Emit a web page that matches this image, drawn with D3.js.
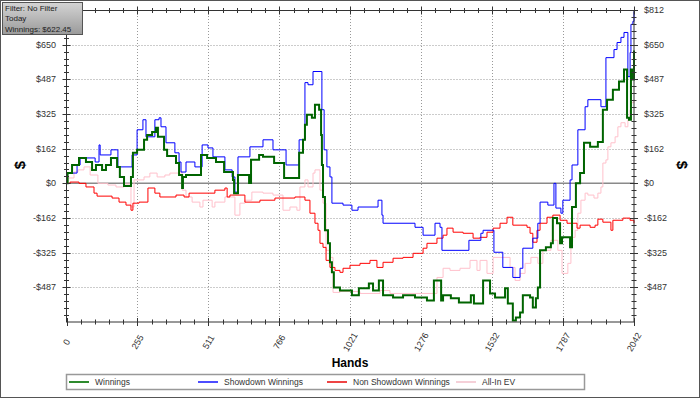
<!DOCTYPE html>
<html>
<head>
<meta charset="utf-8">
<script src="https://cdn.jsdelivr.net/npm/d3@7"></script>
<style>
  body { margin: 0; background: #fff; }
  svg { display: block; font-family: "Liberation Sans", Arial, sans-serif; }
</style>
</head>
<body>
<svg width="700" height="398"></svg>
<script>
// hand, dollars
const winnings = [[0,0],[4,48],[20,86],[45,119],[70,100],[92,63],[106,86],[128,63],[142,86],[160,119],[182,77],[192,30],[207,-13],[232,30],[239,143],[254,157],[279,204],[290,227],[308,241],[322,260],[329,218],[351,157],[362,128],[394,95],[405,39],[416,-22],[419,30],[430,39],[484,133],[506,119],[538,100],[567,53],[599,16],[603,-46],[617,39],[657,2],[664,110],[693,133],[707,124],[747,95],[783,25],[829,25],[837,143],[851,204],[858,274],[865,321],[883,307],[894,368],[909,345],[916,227],[919,86],[923,-64],[930,-220],[941,-281],[948,-370],[955,-417],[962,-488],[984,-502],[1027,-525],[1052,-492],[1088,-469],[1103,-502],[1124,-455],[1139,-525],[1175,-535],[1211,-525],[1254,-535],[1297,-549],[1322,-455],[1348,-549],[1355,-525],[1383,-539],[1412,-558],[1455,-525],[1466,-563],[1499,-455],[1524,-516],[1542,-535],[1578,-492],[1588,-563],[1606,-643],[1617,-629],[1632,-605],[1642,-525],[1668,-535],[1678,-582],[1689,-539],[1696,-488],[1704,-314],[1725,-300],[1743,-281],[1750,-163],[1765,-187],[1776,-281],[1783,-253],[1812,-300],[1819,-111],[1833,0],[1848,48],[1862,190],[1884,171],[1912,194],[1930,345],[1945,392],[1966,439],[1988,477],[2006,533],[2017,307],[2024,298],[2031,533],[2035,486],[2042,622]];

const showdown = [[0,0],[2,48],[38,86],[49,119],[103,100],[117,180],[121,133],[160,157],[185,77],[236,133],[254,251],[275,298],[286,218],[318,298],[333,307],[340,265],[358,190],[390,143],[405,100],[412,53],[430,100],[462,77],[488,180],[509,166],[527,124],[570,63],[596,30],[606,-41],[617,124],[660,171],[707,204],[743,157],[790,86],[837,204],[858,472],[869,462],[887,524],[919,345],[927,157],[937,77],[948,30],[955,-93],[995,-102],[1027,-126],[1049,-111],[1121,-79],[1135,-149],[1139,-187],[1254,-206],[1283,-243],[1326,-187],[1344,-206],[1351,-314],[1448,-267],[1491,-234],[1499,-220],[1538,-323],[1570,-394],[1606,-441],[1632,-398],[1642,-304],[1678,-257],[1696,-187],[1704,-88],[1732,-102],[1754,0],[1761,-116],[1779,-140],[1786,-79],[1812,16],[1819,86],[1840,251],[1866,359],[1876,392],[1923,359],[1941,589],[1970,627],[1981,660],[1995,684],[2006,707],[2020,500],[2028,613],[2031,745],[2038,759],[2042,806]];

const nonShowdown = [[0,0],[13,6],[45,0],[70,-17],[99,-46],[110,-60],[164,-69],[189,-88],[214,-102],[232,-126],[239,-93],[261,-88],[293,-22],[318,-46],[336,-64],[394,-55],[423,-64],[441,-46],[513,-46],[534,-32],[570,-22],[578,-64],[588,-55],[642,-88],[696,-79],[750,-69],[822,-64],[858,-79],[876,-140],[894,-187],[905,-220],[912,-281],[923,-300],[934,-361],[948,-394],[966,-408],[984,-417],[995,-398],[1020,-384],[1056,-375],[1092,-361],[1117,-394],[1139,-370],[1175,-351],[1211,-347],[1247,-328],[1283,-304],[1297,-281],[1333,-257],[1355,-243],[1369,-210],[1391,-229],[1427,-234],[1463,-257],[1488,-253],[1513,-229],[1535,-210],[1560,-187],[1585,-159],[1606,-196],[1632,-196],[1657,-206],[1668,-234],[1678,-276],[1693,-220],[1704,-187],[1729,-159],[1750,-149],[1776,-173],[1801,-187],[1822,-187],[1837,-210],[1848,-196],[1884,-206],[1902,-196],[1912,-168],[1930,-182],[1959,-220],[1966,-173],[2002,-163],[2028,-173],[2042,-187]];

const allInEV = [[0,0],[5,25],[27,53],[41,63],[63,77],[85,39],[113,0],[149,-8],[178,-17],[207,-3],[232,-111],[243,16],[279,30],[300,48],[326,30],[354,39],[372,48],[408,53],[416,-32],[430,-64],[452,-88],[480,-111],[491,-79],[524,-111],[534,-88],[570,-64],[606,-149],[624,-93],[642,-79],[667,-41],[707,-46],[743,-55],[779,-126],[804,-111],[829,-126],[840,-17],[858,16],[869,-17],[887,48],[894,63],[912,-32],[923,-93],[934,-314],[948,-347],[959,-511],[984,-507],[1056,-516],[1128,-502],[1164,-516],[1308,-516],[1333,-441],[1355,-398],[1380,-408],[1416,-398],[1452,-361],[1477,-408],[1488,-361],[1513,-422],[1535,-347],[1563,-347],[1596,-394],[1614,-455],[1632,-422],[1650,-375],[1671,-347],[1696,-375],[1714,-314],[1743,-267],[1768,-314],[1783,-422],[1804,-375],[1815,-253],[1830,-220],[1840,-140],[1851,-79],[1866,-46],[1876,-55],[1898,-69],[1912,-46],[1923,-17],[1930,95],[1941,110],[1948,171],[1959,190],[1974,218],[1984,265],[1995,284],[2010,265],[2020,298],[2028,345],[2031,378],[2042,392]];

const xTickValues = [0, 255.25, 510.5, 765.75, 1021, 1276.25, 1531.5, 1786.75, 2042];
const xTickLabels = ['0', '255', '511', '766', '1021', '1276', '1532', '1787', '2042'];
const yTickValues = [-487.35, -324.9, -162.45, 0, 162.45, 324.9, 487.35, 649.8, 812.25];
const yTickLabels = ['-$487', '-$325', '-$162', '$0', '$162', '$325', '$487', '$650', '$812'];

const seriesNames = ['Winnings', 'Showdown Winnings', 'Non Showdown Winnings', 'All-In EV'];
const infoLines = ['Filter: No Filter', 'Today', 'Winnings: $622.45'];

const svg = d3.select('svg');

const x = d3.scaleLinear().domain([0, 2042]).range([66.5, 634]);
const y = d3.scaleLinear().domain([-649.8, 812.25]).range([322, 10]);

// outer frame
svg.append('rect')
  .attr('x', 0.5).attr('y', 0.5)
  .attr('width', 699).attr('height', 397)
  .attr('fill', '#fff').attr('stroke', '#555');

// grid
const xMinor = [];
for (let i = 0; i < xTickValues.length - 1; i++) {
  const step = (xTickValues[i + 1] - xTickValues[i]) / 5;
  for (let k = 1; k < 5; k++) xMinor.push(xTickValues[i] + k * step);
}
const yAll = [-649.8].concat(yTickValues);
const yMinor = [];
for (let i = 0; i < yAll.length - 1; i++) {
  const step = (yAll[i + 1] - yAll[i]) / 5;
  for (let k = 1; k < 5; k++) yMinor.push(yAll[i] + k * step);
}

const grid = svg.append('g');
grid.selectAll('.vg')
  .data(xTickValues.slice(1, -1))
  .enter().append('line')
    .attr('x1', d => Math.round(x(d)) + 0.5).attr('x2', d => Math.round(x(d)) + 0.5)
    .attr('y1', 10).attr('y2', 322)
    .attr('stroke', '#999').attr('stroke-dasharray', '1,2');
grid.selectAll('.hg')
  .data(yTickValues.filter(d => d !== 0 && d < 812))
  .enter().append('line')
    .attr('y1', d => Math.round(y(d)) + 0.5).attr('y2', d => Math.round(y(d)) + 0.5)
    .attr('x1', 66.5).attr('x2', 634)
    .attr('stroke', '#999').attr('stroke-dasharray', '1,2');
grid.append('line')
  .attr('x1', 66.5).attr('x2', 634)
  .attr('y1', y(0)).attr('y2', y(0))
  .attr('stroke', '#8a8a8a').attr('stroke-width', 1.5);

// series
const line = d3.line()
  .x(d => x(d[0]))
  .y(d => y(d[1]))
  .curve(d3.curveStepAfter);

const series = [
  { data: allInEV, color: '#ffc0cb', width: 1 },
  { data: nonShowdown, color: '#ff0000', width: 1 },
  { data: showdown, color: '#0000ff', width: 1 },
  { data: winnings, color: '#006400', width: 2 }
];
svg.append('g').selectAll('path')
  .data(series)
  .enter().append('path')
    .attr('d', d => line(d.data))
    .attr('fill', 'none')
    .attr('stroke', d => d.color)
    .attr('stroke-width', d => d.width)
    .attr('stroke-linejoin', 'miter');

// plot box
svg.append('rect')
  .attr('x', 66.5).attr('y', 10.5)
  .attr('width', 567.5).attr('height', 311.5)
  .attr('fill', 'none').attr('stroke', '#333');

// ticks on the four sides
const ticks = svg.append('g').attr('stroke', '#333');
[66.5, 634].forEach(px => {
  ticks.selectAll(null).data(yTickValues).enter().append('line')
    .attr('x1', px - 4).attr('x2', px + 4)
    .attr('y1', d => Math.round(y(d)) + 0.5).attr('y2', d => Math.round(y(d)) + 0.5);
  ticks.selectAll(null).data(yMinor).enter().append('line')
    .attr('x1', px - 2.5).attr('x2', px + 2.5)
    .attr('y1', d => Math.round(y(d)) + 0.5).attr('y2', d => Math.round(y(d)) + 0.5);
});
[10.5, 322].forEach(py => {
  ticks.selectAll(null).data(xTickValues).enter().append('line')
    .attr('y1', py - 4).attr('y2', py + 4)
    .attr('x1', d => Math.round(x(d)) + 0.5).attr('x2', d => Math.round(x(d)) + 0.5);
  ticks.selectAll(null).data(xMinor).enter().append('line')
    .attr('y1', py - 2.5).attr('y2', py + 2.5)
    .attr('x1', d => Math.round(x(d)) + 0.5).attr('x2', d => Math.round(x(d)) + 0.5);
});

// tick labels
const labels = svg.append('g').attr('font-size', '9px').attr('fill', '#333');
labels.selectAll('.yl')
  .data(yTickValues)
  .enter().append('text')
    .attr('x', 56).attr('y', d => y(d))
    .attr('dy', '0.35em').attr('text-anchor', 'end')
    .text((d, i) => yTickLabels[i]);
labels.selectAll('.yr')
  .data(yTickValues)
  .enter().append('text')
    .attr('x', 644).attr('y', d => y(d))
    .attr('dy', '0.35em').attr('text-anchor', 'start')
    .text((d, i) => yTickLabels[i]);
labels.selectAll('.xl')
  .data(xTickValues)
  .enter().append('text')
    .attr('transform', d => `translate(${x(d)},342) rotate(-60)`)
    .attr('dy', '0.35em').attr('text-anchor', 'middle')
    .text((d, i) => xTickLabels[i]);

// axis titles
svg.append('text')
  .attr('transform', 'translate(20,165) rotate(-90)')
  .attr('text-anchor', 'middle').attr('dy', '0.35em')
  .attr('font-size', '15px').attr('font-weight', 'bold')
  .text('$');
svg.append('text')
  .attr('transform', 'translate(682,165) rotate(90)')
  .attr('text-anchor', 'middle').attr('dy', '0.35em')
  .attr('font-size', '15px').attr('font-weight', 'bold')
  .text('$');
svg.append('text')
  .attr('x', 350).attr('y', 367)
  .attr('text-anchor', 'middle')
  .attr('font-size', '12px').attr('font-weight', 'bold')
  .text('Hands');

// legend
const legend = svg.append('g');
legend.append('rect')
  .attr('x', 66.5).attr('y', 374.5)
  .attr('width', 518).attr('height', 15)
  .attr('fill', '#fff').attr('stroke', '#999').attr('stroke-width', 1.5);
const legendColors = ['#2e8b2e', '#4d4dff', '#ee4444', '#f5d0d8'];
const legendX = [69, 198, 327, 456];
const items = legend.selectAll('.item')
  .data(seriesNames)
  .enter().append('g')
    .attr('transform', (d, i) => `translate(${legendX[i]},382)`);
items.append('line')
  .attr('x1', 0).attr('x2', 20)
  .attr('stroke', (d, i) => legendColors[i]).attr('stroke-width', 2);
items.append('text')
  .attr('x', 26).attr('dy', '0.35em')
  .attr('font-size', '8.5px').attr('fill', '#333')
  .text(d => d);

// info box
const defs = svg.append('defs');
const grad = defs.append('linearGradient')
  .attr('id', 'boxGrad').attr('x1', 0).attr('y1', 0).attr('x2', 0).attr('y2', 1);
grad.append('stop').attr('offset', '0%').attr('stop-color', '#d4d4d4');
grad.append('stop').attr('offset', '100%').attr('stop-color', '#9a9a9a');
svg.append('rect')
  .attr('x', 2.5).attr('y', 2.5)
  .attr('width', 80).attr('height', 32)
  .attr('fill', 'url(#boxGrad)').attr('stroke', '#555');
svg.append('g').selectAll('text')
  .data(infoLines)
  .enter().append('text')
    .attr('x', 5).attr('y', (d, i) => 10.5 + i * 10.5)
    .attr('font-size', '8px').attr('fill', '#222')
    .text(d => d);
</script>
</body>
</html>
